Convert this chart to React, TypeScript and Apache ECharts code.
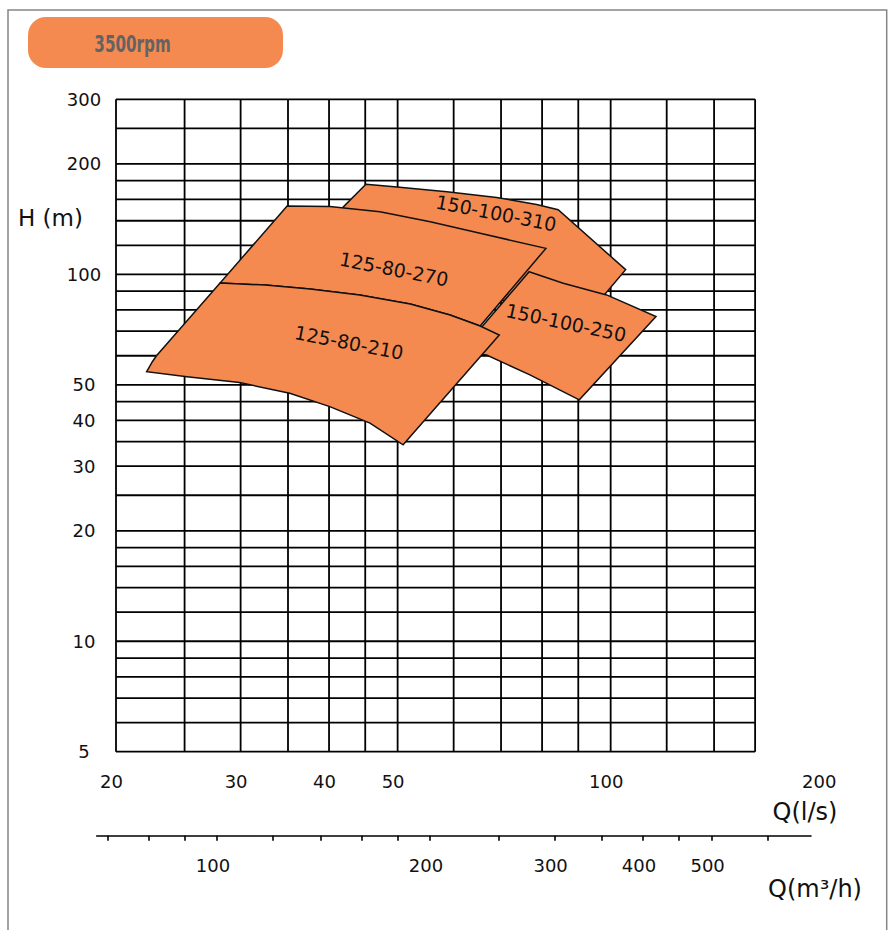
import React, { useEffect, useRef } from "react";
import * as echarts from "echarts";

// ---- axis ranges (l/s and m) ----
const Q_MIN = 20;
const Q_MAX = 200;
const Q_GRID_MAX = 160;
const H_MIN = 5;
const H_MAX = 300;
const M3H_PER_LPS = 3.6;

// ---- grid lines and tick labels ----
const qGridValues = [20, 25, 30, 35, 40, 45, 50, 60, 70, 80, 90, 100, 120, 140, 160];
const hGridValues = [5, 6, 7, 8, 9, 10, 12, 14, 16, 18, 20, 25, 30, 35, 40, 45, 50, 60, 70, 80, 90, 100, 120, 140, 160, 180, 200, 250, 300];
const qLabels = [20, 30, 40, 50, 100, 200];
const hLabels = [5, 10, 20, 30, 40, 50, 100, 200, 300];
const m3hTicks = [70, 80, 90, 100, 120, 140, 160, 180, 200, 250, 300, 350, 400, 450, 500, 600];
const m3hLabels = [100, 200, 300, 400, 500];

// ---- pump coverage areas: [Q (l/s), H (m)] ----
const pump310 = [[45.1, 176], [49.9, 173], [58.7, 168], [69, 162], [78.6, 155], [84.3, 150], [105, 103], [96, 84], [69.8, 85], [40.8, 145]];
const pump250 = [[76.7, 101.7], [85.7, 94.6], [98.7, 87.9], [115.9, 76.7], [90.3, 45.5], [76.9, 53.2], [66.8, 60.3], [61.3, 61.4]];
const pump270 = [[34.9, 153.6], [40.1, 153.1], [47.2, 148.2], [55.6, 139.1], [65.4, 129.4], [81, 117.7], [65.4, 72.3], [59.3, 77.5], [52.1, 83], [44.2, 87.9], [37.6, 91.2], [32.5, 93.5], [28.06, 94.7]];
const pump210 = [[28.06, 94.7], [32.5, 93.5], [37.6, 91.2], [44.2, 87.9], [52.1, 83], [59.3, 77.5], [65.4, 72.3], [69.6, 68.3], [50.9, 34.3], [45.7, 39.3], [40.1, 43.6], [35.2, 47.4], [29.9, 50.7], [25.2, 52.6], [22.1, 54.3], [22.5, 57.7], [22.8, 59.9]];

const pumpNames = ["150-100-310", "150-100-250", "125-80-270", "125-80-210"];
const labelAnchors = [[68.9, 147], [86.5, 73.9], [49.4, 103.4], [42.7, 65.2]];
const labelAngles = [11, 12, 11, 11];

const pumps = [pump310, pump250, pump270, pump210];

const ORANGE = "#F58A50";
const FONT = '"DejaVu Sans", Verdana, sans-serif';

// layout
const GL = 116;
const GT = 99.3;
const GW = 707.7;
const GH = 652.4;
const SL = 96.7; // secondary axis line start
const SR = 811; // secondary axis line end
const SY = 835.7;

export default function App() {
  const ref = useRef<HTMLDivElement>(null);

  useEffect(() => {
    if (!ref.current) return;
    const chart = echarts.init(ref.current, undefined, { renderer: "svg" });

    const decades = Math.log10(Q_MAX / Q_MIN);
    const m3hMin = Q_MIN * M3H_PER_LPS * Math.pow(10, ((SL - GL) / GW) * decades);
    const m3hMax = Q_MIN * M3H_PER_LPS * Math.pow(10, ((SR - GL) / GW) * decades);

    const gridLineData = [
      ...qGridValues.map((q) => [q, H_MIN, q, H_MAX]),
      ...hGridValues.map((h) => [Q_MIN, h, Q_GRID_MAX, h]),
    ];

    const labelStyle = { fontSize: 18, color: "#111", fontFamily: FONT };

    const option: any = {
      animation: false,
      grid: [
        { left: GL, top: GT, width: GW, height: GH },
        { left: SL, top: SY - 1, width: SR - SL, height: 1 },
      ],
      xAxis: [
        {
          type: "log",
          gridIndex: 0,
          min: Q_MIN,
          max: Q_MAX,
          axisLine: { show: false },
          axisTick: { show: false },
          splitLine: { show: false },
          axisLabel: { ...labelStyle, customValues: qLabels, margin: 21, padding: [0, 9, 0, 0] },
        },
        {
          type: "log",
          gridIndex: 1,
          min: m3hMin,
          max: m3hMax,
          position: "bottom",
          axisLine: { show: true, lineStyle: { color: "#000", width: 1.6 } },
          axisTick: { show: true, customValues: m3hTicks, length: 5, lineStyle: { color: "#000", width: 1.6 } },
          splitLine: { show: false },
          axisLabel: { ...labelStyle, customValues: m3hLabels, margin: 21, padding: [0, 8, 0, 0] },
        },
      ],
      yAxis: [
        {
          type: "log",
          gridIndex: 0,
          min: H_MIN,
          max: H_MAX,
          axisLine: { show: false },
          axisTick: { show: false },
          splitLine: { show: false },
          axisLabel: { ...labelStyle, customValues: hLabels, align: "center", margin: 32, padding: [6, 0, 0, 0] },
        },
        { type: "value", gridIndex: 1, show: false, min: 0, max: 1 },
      ],
      series: [
        {
          type: "custom",
          name: "grid",
          xAxisIndex: 0,
          yAxisIndex: 0,
          z: 1,
          silent: true,
          data: gridLineData,
          encode: { x: [0, 2], y: [1, 3] },
          renderItem: (params: any, api: any) => {
            const p1 = api.coord([api.value(0), api.value(1)]);
            const p2 = api.coord([api.value(2), api.value(3)]);
            return {
              type: "line",
              shape: { x1: p1[0], y1: p1[1], x2: p2[0], y2: p2[1] },
              style: { stroke: "#000", lineWidth: 1.8 },
            };
          },
        },
        {
          type: "custom",
          name: "pumps",
          xAxisIndex: 0,
          yAxisIndex: 0,
          z: 2,
          silent: true,
          data: pumps.map((p) => p[0]),
          encode: { x: 0, y: 1 },
          renderItem: (params: any, api: any) => {
            const pts = pumps[params.dataIndex].map((pt) => api.coord(pt));
            return {
              type: "polygon",
              shape: { points: pts },
              style: { fill: ORANGE, stroke: "#111", lineWidth: 1.5, lineJoin: "miter" },
            };
          },
        },
        {
          type: "custom",
          name: "labels",
          xAxisIndex: 0,
          yAxisIndex: 0,
          z: 3,
          silent: true,
          data: labelAnchors,
          encode: { x: 0, y: 1 },
          renderItem: (params: any, api: any) => {
            const i = params.dataIndex;
            const c = api.coord(labelAnchors[i]);
            return {
              type: "text",
              x: c[0],
              y: c[1],
              rotation: (-labelAngles[i] * Math.PI) / 180,
              style: {
                text: pumpNames[i],
                fontSize: 19,
                fontFamily: FONT,
                fill: "#111",
                align: "center",
                verticalAlign: "middle",
              },
            };
          },
        },
      ],
      graphic: [
        {
          type: "rect",
          silent: true,
          shape: { x: 8, y: 10, width: 878.7, height: 950 },
          style: { fill: "none", stroke: "#858585", lineWidth: 1.5 },
        },
        {
          type: "rect",
          silent: true,
          shape: { x: 28, y: 17, width: 255, height: 51, r: 18 },
          style: { fill: ORANGE },
        },
        {
          type: "text",
          silent: true,
          x: 132.5,
          y: 44,
          scaleX: 0.66,
          style: {
            text: "3500rpm",
            fill: "#636363",
            fontSize: 23,
            fontWeight: "bold",
            fontFamily: FONT,
            align: "center",
            verticalAlign: "middle",
          },
        },
        {
          type: "text",
          silent: true,
          x: 18,
          y: 218,
          style: { text: "H (m)", fill: "#111", fontSize: 23, fontFamily: FONT, align: "left", verticalAlign: "middle" },
        },
        {
          type: "text",
          silent: true,
          x: 805,
          y: 812,
          style: { text: "Q(l/s)", fill: "#111", fontSize: 24, fontFamily: FONT, align: "center", verticalAlign: "middle" },
        },
        {
          type: "text",
          silent: true,
          x: 815,
          y: 889,
          style: { text: "Q(m³/h)", fill: "#111", fontSize: 24, fontFamily: FONT, align: "center", verticalAlign: "middle" },
        },
      ],
    };

    chart.setOption(option);
    return () => chart.dispose();
  }, []);

  return (
    <div
      ref={ref}
      style={{ position: "absolute", left: 0, top: 0, width: 893, height: 930, background: "#fff" }}
    />
  );
}
